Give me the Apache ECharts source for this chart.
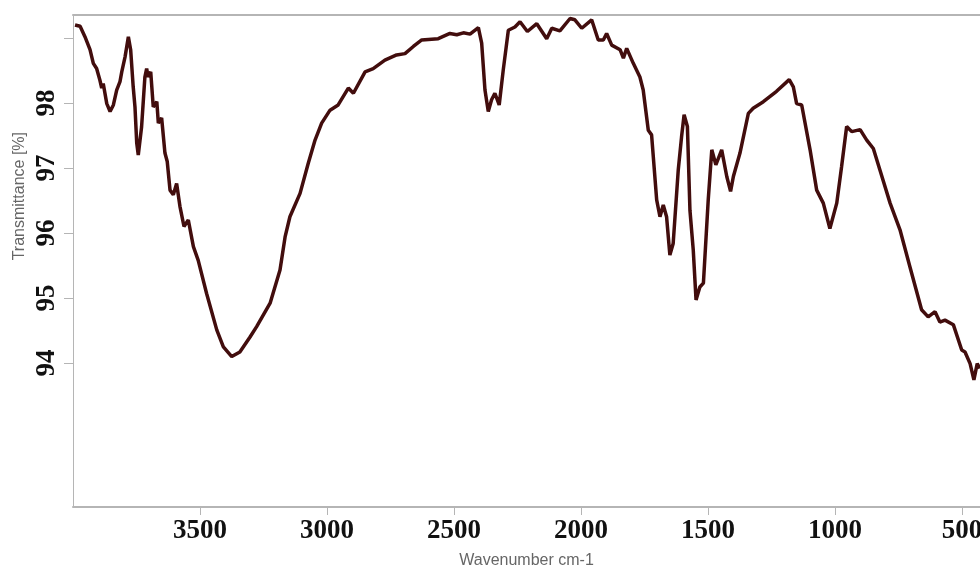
<!DOCTYPE html>
<html>
<head>
<meta charset="utf-8">
<script src="https://cdn.jsdelivr.net/npm/echarts@6/dist/echarts.min.js"></script>
<style>html,body{margin:0;padding:0;background:#fff;}#c{width:980px;height:576px;}</style>
</head>
<body>
<div id="c"></div>
<script>
// Wavenumber (cm-1) of each traced point
const wavenumbers = [3992,3972,3953,3933,3920,3907,3894,3887,3881,3867,3854,3841,3828,3815,3808,3795,3782,3773,3763,3756,3749,3743,3730,3717,3710,3704,3694,3684,3670,3664,3651,3638,3629,3618,3605,3592,3579,3563,3546,3526,3507,3474,3434,3408,3375,3343,3303,3277,3224,3185,3165,3146,3106,3074,3047,3021,2988,2956,2916,2896,2850,2818,2772,2726,2693,2660,2627,2562,2516,2489,2463,2437,2404,2391,2378,2365,2352,2339,2322,2306,2286,2260,2240,2211,2174,2135,2115,2083,2043,2024,1997,1958,1932,1912,1899,1879,1846,1833,1820,1794,1768,1755,1735,1722,1702,1689,1676,1663,1650,1637,1617,1604,1594,1581,1571,1558,1547,1532,1518,1499,1485,1469,1446,1426,1411,1400,1374,1341,1322,1282,1230,1180,1164,1151,1131,1098,1072,1046,1020,993,974,954,934,901,875,849,823,783,744,705,659,633,606,587,567,534,501,488,468,453,440,429];
// Transmittance (%) at each point
const transmittance = [99.20,99.18,99.02,98.82,98.61,98.53,98.35,98.23,98.30,97.99,97.87,97.97,98.20,98.33,98.48,98.71,99.02,98.82,98.25,97.94,97.38,97.20,97.63,98.40,98.53,98.40,98.48,97.94,98.02,97.69,97.77,97.23,97.10,96.66,96.59,96.76,96.41,96.10,96.20,95.79,95.58,95.07,94.51,94.25,94.10,94.17,94.40,94.56,94.92,95.43,95.94,96.25,96.61,97.07,97.43,97.69,97.89,97.97,98.23,98.15,98.48,98.53,98.66,98.74,98.76,98.87,98.97,98.99,99.07,99.05,99.08,99.06,99.16,98.92,98.20,97.87,98.05,98.15,97.97,98.51,99.12,99.17,99.25,99.10,99.22,98.99,99.15,99.11,99.30,99.28,99.15,99.28,98.97,98.97,99.07,98.89,98.82,98.69,98.84,98.61,98.40,98.20,97.58,97.51,96.51,96.25,96.43,96.25,95.66,95.84,96.97,97.48,97.82,97.64,96.35,95.74,94.97,95.17,95.23,96.51,97.28,97.05,97.28,96.87,96.64,96.87,97.23,97.84,97.92,98.02,98.18,98.36,98.25,97.99,97.97,97.28,96.66,96.46,96.07,96.46,97.02,97.64,97.56,97.59,97.43,97.30,96.97,96.46,96.05,95.48,94.82,94.71,94.79,94.63,94.66,94.59,94.20,94.17,93.99,93.74,93.99,93.92];
const xTickValues = [3500,3000,2500,2000,1500,1000,500];
const yTickValues = [94,95,96,97,98,99];
const yLabelValues = [94,95,96,97,98];
const xTitle = 'Wavenumber cm-1';
const yTitle = 'Transmittance [%]';

const seriesData = wavenumbers.map((w, i) => [w, transmittance[i]]);
const chart = echarts.init(document.getElementById('c'));
const axisGray = '#b5b5b5';
const labelFont = {fontFamily: '"Liberation Serif", serif', fontWeight: 'bold', fontSize: 27, color: '#111'};
const plain = v => String(v);
chart.setOption({
  animation: false,
  grid: {left: 73, right: 0, top: 15, bottom: 69, containLabel: false, outerBoundsMode: 'none'},
  xAxis: [{
    type: 'value', inverse: true, min: 429, max: 4000,
    name: xTitle, nameLocation: 'middle', nameGap: 46,
    nameTextStyle: {fontFamily: 'Liberation Sans, Arial, sans-serif', fontSize: 16, color: '#666'},
    axisLine: {show: true, lineStyle: {color: axisGray, width: 2}},
    axisTick: {show: true, length: 8, customValues: xTickValues, lineStyle: {color: axisGray, width: 1}},
    axisLabel: Object.assign({customValues: xTickValues, margin: 11, formatter: plain, hideOverlap: false}, labelFont),
    splitLine: {show: false}
  }, {
    type: 'value', inverse: true, min: 429, max: 4000, position: 'top',
    axisLine: {show: true, lineStyle: {color: axisGray, width: 2}},
    axisTick: {show: false}, axisLabel: {show: false}, splitLine: {show: false}
  }],
  yAxis: {
    type: 'value', min: 91.785, max: 99.354,
    axisLine: {show: true, lineStyle: {color: axisGray, width: 1}},
    axisTick: {show: true, length: 9, customValues: yTickValues, lineStyle: {color: axisGray, width: 1}},
    axisLabel: Object.assign({customValues: yLabelValues, rotate: 90, margin: 12, formatter: plain}, labelFont),
    splitLine: {show: false}
  },
  graphic: [{
    type: 'text', left: 12, top: 132, rotation: Math.PI / 2,
    style: {text: yTitle, fontFamily: 'Liberation Sans, Arial, sans-serif', fontSize: 16, fill: '#666'}
  }],
  series: [{
    type: 'line', data: seriesData, showSymbol: false, smooth: false,
    lineStyle: {color: '#420d0d', width: 3.5},
    xAxisIndex: 0
  }]
});
</script>
</body>
</html>
